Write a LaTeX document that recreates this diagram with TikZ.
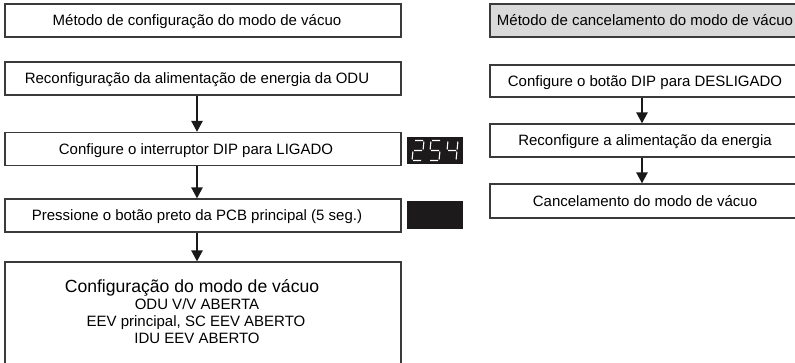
\documentclass[tikz,border=0pt]{standalone}
\usepackage{fontspec}
\setmainfont{Liberation Sans}
\usetikzlibrary{arrows.meta}
\definecolor{edge}{HTML}{3A3A3A}
\definecolor{titlegray}{HTML}{D9D9D9}
\definecolor{dispblack}{HTML}{1C1A1B}
\tikzset{
  stepbox/.style={draw=edge, line width=1.2bp, minimum height=33bp, inner sep=0pt,
    text height=10.7bp, text depth=0pt, font=\fontsize{15bp}{17bp}\selectfont},
  leftbox/.style={stepbox, minimum width=396bp},
  rightbox/.style={stepbox, minimum width=310bp},
  flow/.style={line width=2.4bp, draw=black!90, -{Triangle[width=11bp,length=11bp]}},
  disp/.style={fill=dispblack, draw=none, inner sep=0pt, minimum width=56bp},
  seg/.style={draw=white, line width=1.1bp},
  bodyline/.style={anchor=base, inner sep=0pt, font=\fontsize{15bp}{17bp}\selectfont},
}
\begin{document}
\begin{tikzpicture}[x=1bp,y=-1bp]
\useasboundingbox (0,0) rectangle (795,362);
\clip (0,0) rectangle (795,362);
% left column
\coordinate (ax) at (197,0);
\node[leftbox] (l1) at (203,20.5) {\hspace*{-12bp}Método de configuração do modo de vácuo};
\node[leftbox] (l2) at (203,78.5) {\hspace*{-12bp}Reconfiguração da alimentação de energia da ODU};
\node[leftbox] (l3) at (203,149) {\hspace*{-14bp}Configure o interruptor DIP para LIGADO};
\node[leftbox] (l4) at (203,215.5) {\hspace*{-12bp}Pressione o botão preto da PCB principal (5 seg.)};
\node[stepbox, minimum width=396bp, minimum height=140bp] (l5) at (203,332) {};
\node[bodyline, font=\fontsize{17.6bp}{20bp}\selectfont] (t1) at (192,292) {Configuração do modo de vácuo};
\node[bodyline] (t2) at (197,309.5) {ODU V/V ABERTA};
\node[bodyline] (t3) at (196,326.5) {EEV principal, SC EEV ABERTO};
\node[bodyline] (t4) at (197,343.5) {IDU EEV ABERTO};
\draw[flow] (l2.south -| ax) -- (l3.north -| ax);
\draw[flow] (l3.south -| ax) -- (l4.north -| ax);
\draw[flow] (l4.south -| ax) -- (l5.north -| ax);
% displays
\node[disp, minimum height=27bp] (d1) at (435,150.5) {};
\node[disp, minimum height=28bp] (d2) at (435,215) {};
\begin{scope}[shift={(412,160.5)}, y=1bp, xslant=0.1]
  % digit 2
  \draw[seg] (1,20)--(9,20) (10,19)--(10,11) (1,10)--(9,10) (0,9)--(0,1) (1,0)--(9,0);
  % digit 5
  \draw[seg] (18,20)--(26,20) (17,19)--(17,11) (18,10)--(26,10) (27,9)--(27,1) (18,0)--(26,0);
  % digit 4
  \draw[seg] (34,19)--(34,11) (44,19)--(44,11) (35,10)--(43,10) (44,9)--(44,1);
\end{scope}
% right column
\coordinate (bx) at (642,0);
\node[rightbox, fill=titlegray] (r1) at (645,20.5) {Método de cancelamento do modo de vácuo};
\node[rightbox, minimum height=32bp] (r2) at (645,81) {Configure o botão DIP para DESLIGADO};
\node[rightbox] (r3) at (645,140.5) {Reconfigure a alimentação da energia};
\node[rightbox, minimum height=34bp] (r4) at (645,201) {Cancelamento do modo de vácuo};
\draw[flow] (r2.south -| bx) -- (r3.north -| bx);
\draw[flow] (r3.south -| bx) -- (r4.north -| bx);
\end{tikzpicture}
\end{document}
